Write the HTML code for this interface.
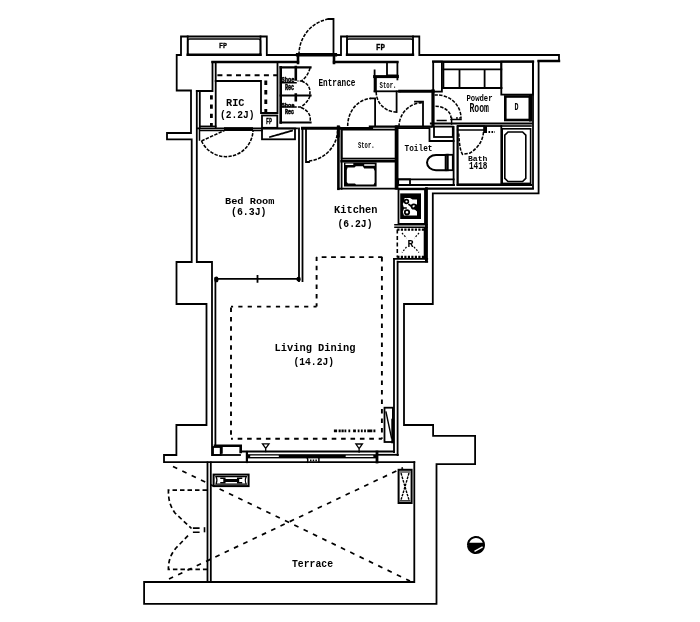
<!DOCTYPE html>
<html><head><meta charset="utf-8">
<style>
html,body{margin:0;padding:0;background:#fff;}
body{width:700px;height:622px;overflow:hidden;}
svg{display:block;}
text{fill:#000;}
</style></head>
<body>
<svg width="700" height="622" viewBox="0 0 700 622" style="will-change:transform">
<g fill="none" stroke="#000" stroke-width="1.8" stroke-linecap="square">
<!-- exterior outline -->
<path d="M298,55 H266.8 V36.5 H181 V55 H176.7 V90.5 H191 V133 H167 V139.4 H191.7 V262 H176.5 V304 H206.5 V425 H176.4 V455 H164 V462.2 H414.3"/>
<path d="M335,55 H341 V36.5 H419.3 V55 H559 V61 H538.6 V193.4 H432.8 V304 H404 V425 H433.1 V435.8 H475.1 V464.2 H436.5 V603.8 H144.1 V582 H414.3 V462.2"/>
<!-- pillars and FP closets top -->
<path d="M187.7,36.5 V55 M260.5,36.5 V55 M347,36.5 V55 M413,36.5 V55"/>
<rect x="187.7" y="38.9" width="72.8" height="15.9" rx="2" stroke-width="1.5"/>
<rect x="347" y="38.9" width="66" height="15.9" rx="2" stroke-width="1.5"/>
<path d="M187.7,54.8 H260.5 M347,54.8 H413" stroke-width="2.4"/>
<!-- entrance door top -->
<path d="M297.7,54.8 H335.3" stroke-width="3.6"/>
<path d="M298,55 V63 M334,55 V63" stroke-width="2.6"/>
<path d="M333.5,55 V19 H328.5"/>
<path d="M328.5,19 A36 36 0 0 0 299,55" stroke-dasharray="3.4 1.3" stroke-linecap="butt" stroke-width="1.55"/>
<!-- top inner wall -->
<path d="M212.5,62 H298 M334,62 H397.4" stroke-width="2.4"/>
<path d="M397.4,62 V79.4"/>
<path d="M433.2,61.6 H533 M538.6,61 H559" stroke-width="2.4"/>
<path d="M533,61.6 V188.7 H426.6 V261"/>
<!-- RIC -->
<path d="M212.5,62 V91 M196.8,91 H212.5 M215.7,63 V127"/>
<path d="M199.8,92.6 V127"/>
<path d="M211.4,95.2 V126.3" stroke-width="2.8" stroke-dasharray="4.3 5" stroke-linecap="butt"/>
<path d="M215.7,81 H261 V113 H277.5 M277.5,63 V113"/>
<path d="M215.7,75.3 H277" stroke-dasharray="5 4.3" stroke-dashoffset="7.6" stroke-linecap="butt" stroke-width="1.9"/>
<path d="M265.8,80.6 V112" stroke-width="2.9" stroke-dasharray="4.4 5.1" stroke-linecap="butt"/>
<rect x="262" y="115.5" width="15.3" height="12.3"/>
<!-- shoe racks -->
<path d="M280.7,67.3 V122.5" stroke-width="2.6"/>
<path d="M280.7,67.3 H310.5 M280.7,95.5 H310.5 M280.7,122.5 H310.5" stroke-width="2.2"/>
<path d="M280.7,82.7 H296 M280.7,107.1 H296" stroke-width="1.5"/>
<path d="M295.8,67 V79.5 M295.8,94.5 V100.2" stroke-width="2.6"/>
<path d="M310,68 Q308,76 301.5,81 H297.5 M301.5,81 Q312,85 309.5,96 M310,96 Q308,102 301,107 H297.5 M301,107.5 Q312,112 310,122.5" stroke-dasharray="3.4 1.3" stroke-linecap="butt" stroke-width="1.55"/>
<!-- RIC bottom / bedroom top -->
<path d="M197,128.3 H297" stroke-width="1.8"/>
<path d="M199.5,130.4 H224 M253,130.4 H262 M199.5,128.3 V140" stroke-width="1.5"/>
<rect x="224" y="127.2" width="29" height="3.8" fill="#000" stroke="none"/>
<path d="M199.8,126.3 H215.7" stroke-width="1.5"/>
<rect x="262" y="128.5" width="33" height="10.8"/>
<path d="M270,137 L292,130.7" stroke-dasharray="3 1.5"/>
<path d="M201.5,141 L224.3,130.5" stroke-dasharray="3.4 1.3" stroke-linecap="butt" stroke-width="1.55"/>
<path d="M201.5,141 A27 27 0 0 0 253,130" stroke-dasharray="3.4 1.3" stroke-linecap="butt" stroke-width="1.55"/>
<!-- bedroom -->
<path d="M196.8,91 V262 H212 V455"/>
<path d="M215.4,278 V446"/>
<path d="M299,128.5 V281 M302.5,128.5 V281"/>
<path d="M215.6,278.9 H299 M257.5,275.8 V281.8"/>
<ellipse cx="216.4" cy="279.4" rx="1.2" ry="2" fill="#000"/><ellipse cx="298.6" cy="279.2" rx="1.3" ry="1.5" fill="#000"/>
<!-- entrance bottom & doors -->
<path d="M302.5,128.3 H339.5" stroke-width="3"/>
<path d="M339.5,128.2 H372" stroke-width="2.2"/>
<path d="M338.3,127 V136" stroke-width="3"/>
<path d="M306,128.5 V162 H309"/>
<path d="M309,161 A31.8 31.8 0 0 0 337.6,131" stroke-dasharray="3.4 1.3" stroke-linecap="butt" stroke-width="1.55"/>
<path d="M370.8,98.3 H375.1 V126"/>
<path d="M347.7,126 A24.5 27.5 0 0 1 371,98.4" stroke-dasharray="3.4 1.3" stroke-linecap="butt" stroke-width="1.55"/>
<path d="M374.6,70.3 V91.3 M375.9,77 V91.3"/>
<path d="M387,62 V75.4 H397.4"/>
<path d="M374.6,76.6 H397.4" stroke-width="3"/>
<path d="M374.6,91.3 H400"/>
<path d="M399.7,91.3 H433" stroke-width="3"/>
<path d="M396.6,91.5 V112"/>
<path d="M376.2,92 A20.4 20 0 0 0 396.6,112" stroke-dasharray="3.4 1.3" stroke-linecap="butt" stroke-width="1.55"/>
<!-- powder room -->
<rect x="433.2" y="61.6" width="8.7" height="30"/>
<rect x="443.4" y="62" width="57.9" height="26"/>
<path d="M443.4,69.3 H501.3 M459.5,69.3 V88 M484.6,69.3 V88"/>
<path d="M443.4,88 H501.3" stroke-width="2.2"/>
<rect x="501.3" y="61.6" width="31.7" height="33"/>
<rect x="505.3" y="96.5" width="24.5" height="23.5" stroke-width="2.6"/>
<path d="M530.5,96.5 V120" stroke-width="3"/>
<path d="M431,123.5 H531.5" stroke-width="2.2"/>
<path d="M434.5,95 H437 A24 23 0 0 1 461,118 H456" stroke-dasharray="3.4 1.3" stroke-linecap="butt" stroke-width="1.55"/>
<path d="M435.5,106.3 A15.5 11.7 0 0 1 451,118" stroke-dasharray="3.4 1.3" stroke-linecap="butt" stroke-width="1.55"/>
<path d="M437.3,120.5 H446 M451,119.5 H461 M451.6,118 V124" stroke-width="1.5"/>
<path d="M433,91 V126" stroke-width="3.2"/>
<!-- toilet -->
<path d="M423,101.7 V126.6 M415,101.7 H423"/>
<path d="M399,126.6 A24 24 0 0 1 423,102.6" stroke-dasharray="3.4 1.3" stroke-linecap="butt" stroke-width="1.55"/>
<path d="M370,126.6 H431" stroke-width="2.4"/>
<path d="M397,127 V188" stroke-width="3"/>
<path d="M398,128.2 H429.5 V141 H453.6"/>
<rect x="434" y="126.6" width="18.8" height="10.4"/>
<path d="M453.6,127 V185 M457.6,127 V185"/>
<path d="M445.6,155 H436 A9 7.6 0 0 0 436,170.2 H445.6" stroke-width="2"/>
<rect x="445.6" y="154.8" width="7.2" height="15.4"/>
<path d="M447.5,155 V170" stroke-width="2.4"/>
<path d="M398,179.3 H453.6 M398,185 H454"/>
<rect x="398.2" y="179.3" width="11.8" height="5.7"/>
<!-- bath -->
<rect x="457.6" y="126" width="43.7" height="58.3"/>
<path d="M457.6,126 H484 M457.6,130 H484" stroke-width="1.5"/>
<rect x="483.2" y="126" width="3.8" height="7" fill="#000" stroke="none"/>
<path d="M488.5,132 H495" stroke-width="2" stroke-dasharray="1.6 1.4" stroke-linecap="butt"/>
<rect x="502.2" y="128.8" width="28.4" height="54.6" stroke-width="1.6"/>
<path d="M501.3,126 H531" stroke-width="1.6"/>
<path d="M508,132 H522.6 L525.8,135.2 V178.3 L522.6,181.5 H508 L504.8,178.3 V135.2 Z" stroke-width="1.6"/>
<path d="M483.5,132 Q482.5,145 470,153 L462.5,154.3 Q459.5,150 458.8,133.5" stroke-dasharray="3.4 1.3" stroke-linecap="butt" stroke-width="1.55"/>
<path d="M426.6,188.7 H533"/>
<path d="M457.6,184.9 H531" stroke-width="2"/>
<!-- kitchen -->
<path d="M338.4,127 V188.8" stroke-width="2.6"/>
<path d="M341.6,129.6 V188.8"/>
<rect x="341.6" y="129.6" width="54.6" height="29"/>
<path d="M341.6,161.2 H396.2" stroke-width="2.6"/>
<rect x="344" y="162.5" width="32.6" height="24" fill="#000" stroke="none"/>
<path d="M346.8,170 L347.6,167.6 H354.5 L355.8,166.2 H362.8 L364.2,168.4 H373.6 L374.6,171 V182.6 L373.6,184.6 H356 L355,183.6 H348 L346.8,182 Z" fill="#fff" stroke="none"/>
<path d="M346.2,164.3 H352.5 M365,165 H374" stroke="#fff" stroke-width="1.6"/>
<path d="M338.4,188.7 H426.6"/>
<path d="M396.2,127 V188" stroke-width="3"/>
<rect x="398.5" y="189.3" width="26.5" height="34.6"/>
<rect x="400.2" y="193.4" width="20.8" height="25.6" fill="#000" stroke="none"/>
<path d="M404.5,198 H410 L412.5,199.5 H417 V204 L413,208 L417,211.5 V215.5 H404 L402.8,212 L404,208.5 L402.8,204 L404.5,201 Z" fill="#fff" stroke="none"/>
<circle cx="406.5" cy="201.5" r="1.9" stroke-width="1.6"/>
<circle cx="413.8" cy="206.5" r="2.2" stroke-width="1.8"/>
<circle cx="407" cy="212.3" r="2.2" stroke-width="1.8"/>
<path d="M409,204.5 l2,1.5 M403,208 h3" stroke-width="1.6"/>
<path d="M395,224.7 H426.8 M395,227.2 H426.8" stroke-width="1.6"/>
<path d="M397.3,229.5 V257.5" stroke-width="1.6" stroke-dasharray="4 2.5" stroke-linecap="butt"/>
<path d="M397.3,229.6 H424 M397.3,256.8 H424" stroke-width="2.2" stroke-dasharray="2.2 1.3" stroke-linecap="butt"/>
<path d="M425,228.7 V258" stroke-width="2.6"/>
<path d="M402,233 L406.5,238 M414,247 L419,252.5 M419,233 L414.5,238 M406.5,247 L402,252.5" stroke-width="1.2" stroke-dasharray="1.8 1.5" stroke-linecap="butt"/>
<path d="M394,258.8 H427.2 M397.8,261.9 H427.2"/>
<path d="M426.4,188.7 V261" stroke-width="2.8"/>
<!-- living right walls -->
<path d="M394,258.8 V452 M397.6,261.6 V455"/>
<!-- living dining dashed -->
<path d="M316.6,257.1 H382.3" stroke-dasharray="4.8 4.60" stroke-dashoffset="4.30" stroke-linecap="butt" stroke-width="1.9"/>
<path d="M381.9,257.1 V438.8" stroke-dasharray="4.5 5.00" stroke-dashoffset="0.10" stroke-linecap="butt" stroke-width="1.9"/>
<path d="M231,438.8 H381.9" stroke-dasharray="4.6 4.80" stroke-dashoffset="2.70" stroke-linecap="butt" stroke-width="1.9"/>
<path d="M231,306.6 V438.8" stroke-dasharray="4.5 4.95" stroke-dashoffset="8.60" stroke-linecap="butt" stroke-width="1.9"/>
<path d="M231,306.6 H316.6" stroke-dasharray="4.2 5.20" stroke-dashoffset="2.10" stroke-linecap="butt" stroke-width="1.9"/>
<path d="M316.6,257.1 V306.6" stroke-dasharray="4.6 4.80" stroke-dashoffset="0.80" stroke-linecap="butt" stroke-width="1.9"/>
<path d="M333.9,430.8 H375.4" stroke-width="2.8" stroke-dasharray="3.2 1.5 2.1 0.8 2.2 0.8 1.8 2.1 1.8 2.9 2.8 1.8 1.8 1.4 1.8 1.4 1.8 1.4 5 1.1 2.2 9" stroke-linecap="butt"/>
<rect x="384.5" y="407.7" width="8.4" height="34.3"/>
<path d="M386,412 L391.5,438" stroke-width="1.4"/>
<path d="M392.6,420 V442" stroke-width="2.6"/>
<!-- bottom window / wall -->
<path d="M215,445.7 H240.7 V452" stroke-width="2.6"/>
<rect x="213" y="447" width="7.7" height="8"/>
<path d="M221.5,447.5 V452.5" stroke-width="2.5"/>
<path d="M213,455 H240"/>
<path d="M240.7,451.5 H394"/>
<path d="M397.8,454.8 H378"/>
<rect x="246" y="454.2" width="131.5" height="4.2" fill="#000" stroke="none"/>
<rect x="250" y="455.6" width="29" height="1.4" rx="0.7" fill="#fff" stroke="none"/>
<rect x="345.5" y="455.6" width="28" height="1.4" rx="0.7" fill="#fff" stroke="none"/>
<path d="M307.4,458.4 Q308.4,460.3 307.4,462.2 M318.9,458.4 V462.2" stroke-width="1.5"/>
<path d="M310,460.3 H317" stroke-width="1.8" stroke-dasharray="1.5 1.2" stroke-linecap="butt"/>
<path d="M246.9,452 V462" stroke-width="2.2"/>
<path d="M377,452 V462" stroke-width="2.8"/>
<path d="M262.5,443.8 H269 L265.7,448.4 Z M265.7,448.4 V451.5" stroke-width="1.3"/>
<path d="M355.9,444 H362.4 L359.1,448.6 Z M359.1,448.6 V452" stroke-width="1.3"/>
<!-- terrace -->
<path d="M207.5,462.5 V582 M210.8,462.5 V582"/>
<rect x="213.6" y="474.6" width="35" height="11.5" stroke-width="2"/>
<path d="M216,476.6 H246.3 Q244.3,480.3 246.3,484.1 H216 Q218,480.3 216,476.6 Z" stroke-width="1.2"/>
<path d="M221,478.2 H224.8 V482.8 H221 M241.5,478.2 H237.7 V482.8 H241.5" stroke-width="1.5"/>
<path d="M224.8,480.5 H237.7" stroke-width="3"/>
<rect x="398.6" y="469.8" width="13" height="33.2" stroke-width="2"/>
<path d="M400.5,472 H409.7 M400.5,500.8 H409.7" stroke-width="1.2"/>
<path d="M401,473 Q405,487 409,500 M409,473 Q405,487 401,500" stroke-width="1.4" stroke-dasharray="2.6 1" stroke-linecap="butt"/>
<path d="M170.4,465.2 L410,581" stroke-dasharray="4.7 5.66" stroke-dashoffset="7.49" stroke-linecap="butt" stroke-width="1.7"/>
<path d="M169,579 L403,467.8" stroke-dasharray="4.7 5.6" stroke-dashoffset="0.2" stroke-linecap="butt" stroke-width="1.7"/>
<path d="M207,490.1 H168.4 C168.4,500 170,506 175,513 L191.5,528.5" stroke-dasharray="4.5 3" stroke-linecap="butt" stroke-width="1.7"/>
<path d="M192.9,528.1 H199.6 M192.9,532.3 H199.6" stroke-width="1.6" stroke-linecap="butt"/>
<path d="M188,535.6 L176,548 C171,554 168.4,560 168.4,569.4 H207" stroke-dasharray="4.5 3" stroke-linecap="butt" stroke-width="1.7"/>
<path d="M204.5,528 V531.5" stroke-width="1.6"/>
<!-- compass -->
<circle cx="476" cy="545" r="8" stroke-width="2" stroke-dasharray="2.4 1.3"/>
</g>
<path d="M468.5,542.8 H483.8 Q484.5,549 479,552.5 Q474,554.5 470,550.5 Q468,547 468.5,542.8 Z" fill="#000"/>
<path d="M474.5,551.3 L482.6,546.8" stroke="#fff" stroke-width="1.4"/>
<!-- texts -->
<g style="font-family:'Liberation Mono',monospace;font-weight:bold">
<text x="219.00" y="47.70" font-size="8.04" textLength="8.00" lengthAdjust="spacingAndGlyphs" stroke="#000" stroke-width="0.3">FP</text>
<text x="376.00" y="49.70" font-size="8.65" textLength="9.00" lengthAdjust="spacingAndGlyphs" stroke="#000" stroke-width="0.3">FP</text>
<text x="226.00" y="105.80" font-size="10.62" textLength="18.50" lengthAdjust="spacingAndGlyphs">RIC</text>
<text x="220.00" y="117.50" font-size="11.08" textLength="34.50" lengthAdjust="spacingAndGlyphs">(2.2J)</text>
<text x="266.00" y="124.30" font-size="8.19" textLength="6.00" lengthAdjust="spacingAndGlyphs" stroke="#000" stroke-width="0.3">FP</text>
<text x="281.50" y="81.80" font-size="6.67" textLength="13.00" lengthAdjust="spacingAndGlyphs" stroke="#000" stroke-width="0.5">Shoe</text>
<text x="285.00" y="89.90" font-size="8.32" textLength="9.00" lengthAdjust="spacingAndGlyphs" stroke="#000" stroke-width="0.5">Rec</text>
<text x="281.50" y="106.50" font-size="6.22" textLength="13.00" lengthAdjust="spacingAndGlyphs" stroke="#000" stroke-width="0.5">Shoe</text>
<text x="285.00" y="114.30" font-size="6.70" textLength="9.00" lengthAdjust="spacingAndGlyphs" stroke="#000" stroke-width="0.5">Rec</text>
<text x="318.50" y="85.70" font-size="11.23" textLength="37.00" lengthAdjust="spacingAndGlyphs">Entrance</text>
<text x="379.50" y="88.00" font-size="8.46" textLength="17.00" lengthAdjust="spacingAndGlyphs">Stor.</text>
<text x="466.50" y="100.90" font-size="9.83" textLength="26.00" lengthAdjust="spacingAndGlyphs">Powder</text>
<text x="469.50" y="111.70" font-size="12.87" textLength="19.50" lengthAdjust="spacingAndGlyphs">Room</text>
<text x="514.50" y="110.00" font-size="9.99" textLength="4.00" lengthAdjust="spacingAndGlyphs">D</text>
<text x="358.00" y="147.70" font-size="9.51" textLength="16.50" lengthAdjust="spacingAndGlyphs">Stor.</text>
<text x="404.50" y="150.70" font-size="9.60" textLength="28.00" lengthAdjust="spacingAndGlyphs">Toilet</text>
<text x="468.00" y="160.50" font-size="7.79" textLength="19.50" lengthAdjust="spacingAndGlyphs">Bath</text>
<text x="469.00" y="168.70" font-size="11.23" textLength="18.50" lengthAdjust="spacingAndGlyphs">1418</text>
<text x="225.00" y="203.50" font-size="9.95" textLength="49.50" lengthAdjust="spacingAndGlyphs">Bed Room</text>
<text x="231.00" y="214.80" font-size="10.93" textLength="35.50" lengthAdjust="spacingAndGlyphs">(6.3J)</text>
<text x="334.00" y="212.90" font-size="10.59" textLength="43.50" lengthAdjust="spacingAndGlyphs">Kitchen</text>
<text x="337.50" y="226.80" font-size="11.08" textLength="35.00" lengthAdjust="spacingAndGlyphs">(6.2J)</text>
<text x="407.50" y="247.00" font-size="9.99" textLength="6.00" lengthAdjust="spacingAndGlyphs">R</text>
<text x="274.50" y="350.70" font-size="11.80" textLength="81.00" lengthAdjust="spacingAndGlyphs">Living Dining</text>
<text x="293.50" y="364.80" font-size="11.23" textLength="40.50" lengthAdjust="spacingAndGlyphs">(14.2J)</text>
<text x="292.00" y="567.30" font-size="11.08" textLength="41.00" lengthAdjust="spacingAndGlyphs">Terrace</text>
</g>
</svg>
</body></html>
